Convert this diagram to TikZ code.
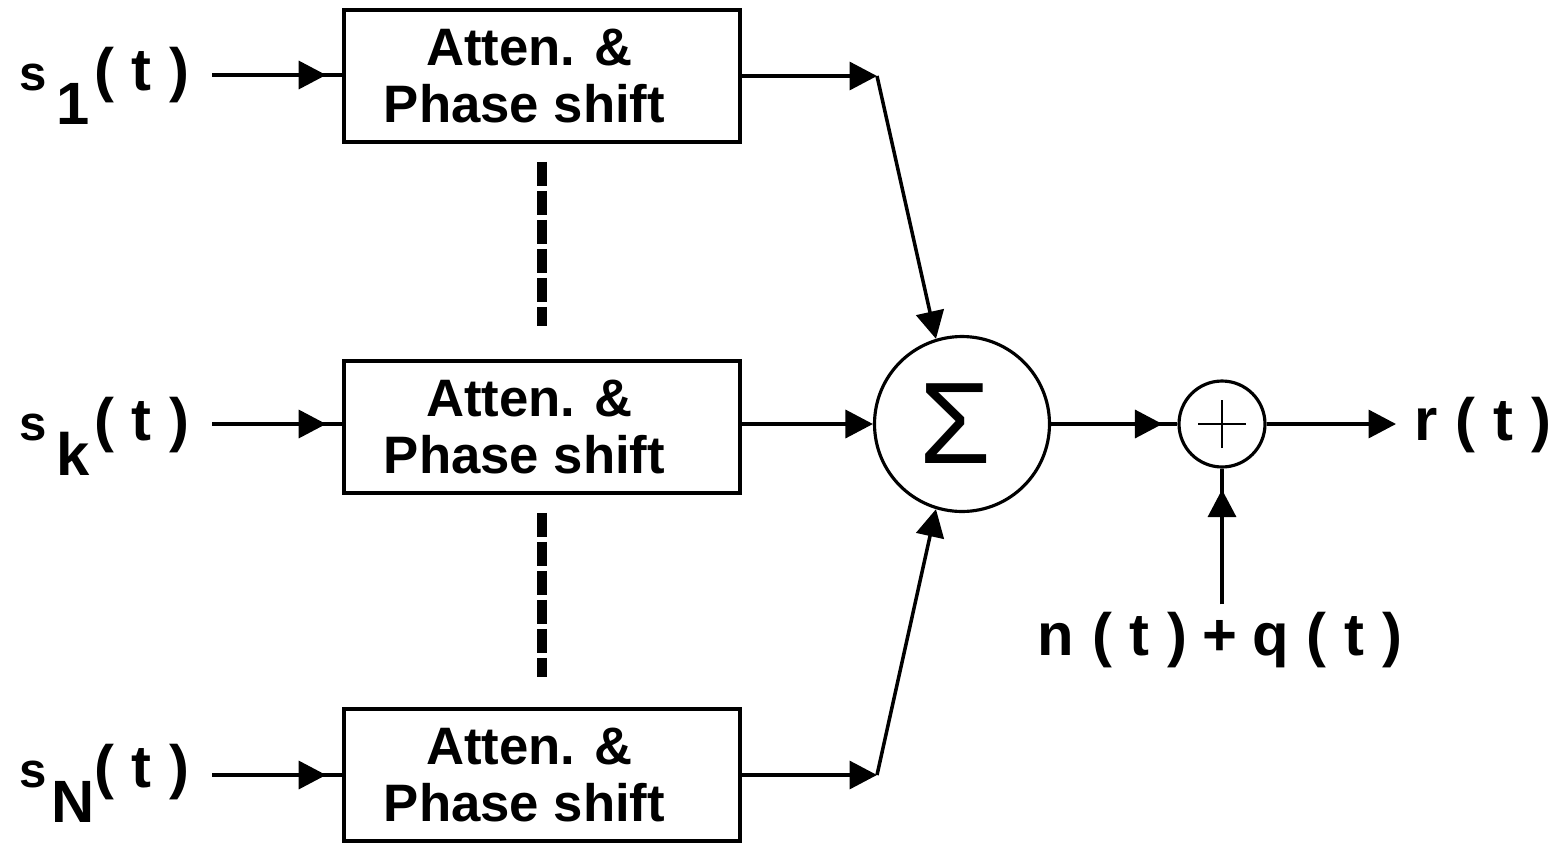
\documentclass[tikz,border=0pt]{standalone}
\usepackage{fontspec}
\setmainfont{Liberation Sans}
\usetikzlibrary{arrows.meta, decorations.markings}

% input signal with its index dropped below the line
\newcommand{\sigin}[1]{{\fontsize{28}{30}\selectfont s}\makebox[0.95cm]{\hspace{0.1cm}\raisebox{-0.7cm}{#1}}(\hspace{0.3em}t\hspace{0.3em})}
% spaced argument "( t )"
\newcommand{\ofT}{(\hspace{0.3em}t\hspace{0.3em})}

\begin{document}
\begin{tikzpicture}[x=0.02cm, y=-0.02cm,
    block/.style={rectangle, draw, line width=2.2pt, minimum width=7.92cm, minimum height=2.64cm, align=center, inner sep=0pt, font=\fontsize{30}{32}\selectfont\bfseries},
    sumnode/.style={circle, draw, line width=1.8pt, minimum size=3.5cm, inner sep=0pt},
    addnode/.style={circle, draw, line width=1.8pt, minimum size=1.72cm, inner sep=0pt,
        path picture={\draw[line width=1.4pt]
            ([xshift=-0.48cm]path picture bounding box.center) -- ([xshift=0.48cm]path picture bounding box.center)
            ([yshift=-0.48cm]path picture bounding box.center) -- ([yshift=0.48cm]path picture bounding box.center);}},
    sigtext/.style={font=\fontsize{34}{36}\selectfont\bfseries, inner sep=0pt},
    wire/.style={line width=2pt},
    flow/.style={wire, -{Triangle[length=0.55cm, width=0.56cm]}},
    flowat/.style={wire, postaction={decorate}, decoration={markings, mark=at position #1 with {\arrow{Triangle[length=0.55cm, width=0.56cm]}}}},
    gap/.style={line width=5.7pt, dash pattern=on 0.48cm off 0.1cm},
]
\useasboundingbox (0,0) rectangle (1568,842);

% the N branches
\node[block] (b1) at (542,76) {Atten. \&\hspace*{0.5cm}\\Phase shift\hspace*{0.7cm}};
\node[block] (bk) at (542,427) {Atten. \&\hspace*{0.5cm}\\Phase shift\hspace*{0.7cm}};
\node[block] (bN) at (542,775) {Atten. \&\hspace*{0.5cm}\\Phase shift\hspace*{0.7cm}};

\node[sigtext, anchor=base east] (s1) at (190,90) {\sigin{1}};
\node[sigtext, anchor=base east] (sk) at (190,440) {\sigin{k}};
\node[sigtext, anchor=base east] (sN) at (190,787) {\sigin{N}};

\draw[flowat=-0.32cm] (s1.east |- b1.west) ++(22,-1) coordinate (i1) -- (b1.west |- i1);
\draw[flowat=-0.32cm] (sk.east |- bk.west) ++(22,-3) coordinate (ik) -- (bk.west |- ik);
\draw[flowat=-0.32cm] (sN.east |- bN.west) ++(22,0) coordinate (iN) -- (bN.west);

\draw[gap, shorten <=0.36cm, shorten >=0.66cm] (b1.south) -- (bk.north);
\draw[gap, shorten <=0.36cm, shorten >=0.6cm] (bk.south) -- (bN.north);

% combining and noise
\node[sumnode] (sum) at (962,424) {\fontsize{66}{66}\selectfont\raisebox{1pt}{Σ}\hspace*{0.25cm}};
\node[addnode] (add) at (1222,424) {};

\coordinate (j1) at (877,76);
\coordinate (jN) at (877,775);

\draw[flow] (b1.east) -- (j1);
\draw[flow] (j1) -- (sum.107);
\draw[flow] (bN.east) -- (jN);
\draw[flow] (jN) -- (sum.253);
\draw[flow] (bk.east |- sum.west) -- (sum.west);

\draw[flowat=-0.3cm] (sum.east) -- (add.west);

\node[sigtext, anchor=base west] (r) at (1414,440) {r\hspace{0.3em}\ofT};
\draw[flow, shorten >=0.36cm] (add.east) -- (add.east -| r.west);

\node[sigtext, anchor=base] (noise) at (1220,655) {n\hspace{0.3em}\ofT\hspace{0.25em}+\hspace{0.25em}q\hspace{0.3em}\ofT};
\draw[flowat=-0.42cm, shorten <=0.14cm] (noise.north -| add.south) -- (add.south);

\end{tikzpicture}
\end{document}
